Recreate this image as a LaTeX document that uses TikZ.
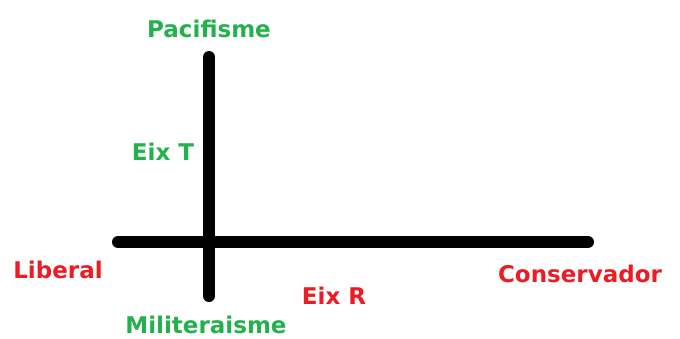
\documentclass[tikz,border=0pt]{standalone}
\usepackage{fontspec}
\setmainfont{DejaVu Sans}
\definecolor{pgreen}{HTML}{22B14C}
\definecolor{pred}{HTML}{ED1C24}
\begin{document}
\begin{tikzpicture}[x=1pt,y=-1pt,
  axis/.style={line width=12pt, line cap=round, black},
  glab/.style={text=pgreen, font=\bfseries\fontsize{23}{26}\selectfont, anchor=base, inner sep=0pt},
  rlab/.style={text=pred, font=\bfseries\fontsize{23}{26}\selectfont, anchor=base, inner sep=0pt}]
\useasboundingbox (0,0) rectangle (680,338);
\coordinate (vt) at (209,57);
\coordinate (vb) at (209,296);
\coordinate (hl) at (118,242);
\coordinate (hr) at (588,242);
\draw[axis] (vt) -- (vb);
\draw[axis] (hl) -- (hr);
\node[glab] (pac) at (209,37) {Pacifisme};
\node[glab] (eixt) at (163,160) {Eix T};
\node[rlab] (lib) at (58,278) {Liberal};
\node[rlab] (cons) at (580,282) {Conservador};
\node[rlab] (eixr) at (334,304) {Eix R};
\node[glab, text depth=0pt] (mil) at (206,333) {Militeraisme};
\end{tikzpicture}
\end{document}
